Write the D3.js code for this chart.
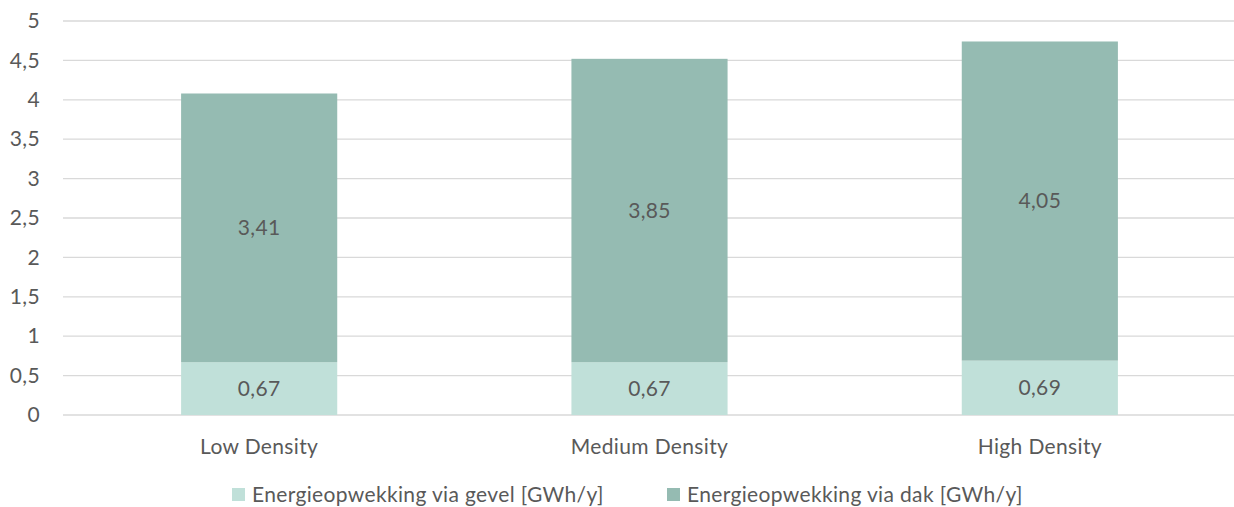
<!DOCTYPE html>
<html><head><meta charset="utf-8">
<script src="https://cdn.jsdelivr.net/npm/d3@7"></script>
<style>body{margin:0;background:#fff}svg{display:block}text{font-family:Lato,sans-serif;fill:#595959;letter-spacing:0.35px}</style>
</head><body><svg id="c" width="1234" height="507"></svg>
<script>
const categories = ["Low Density", "Medium Density", "High Density"];
const gevel = [0.67, 0.67, 0.69];
const dak = [3.41, 3.85, 4.05];
const seriesNames = ["Energieopwekking via gevel [GWh/y]", "Energieopwekking via dak [GWh/y]"];
const yTicks = [0, 0.5, 1, 1.5, 2, 2.5, 3, 3.5, 4, 4.5, 5];
const colors = ["#C0E0D9", "#95BBB2"];

const FS = "21px";
const svg = d3.select("#c");
const x = d3.scaleBand().domain(categories).range([64, 1235]).paddingInner(0.6).paddingOuter(0.3);
const y = d3.scaleLinear().domain([0, 5]).range([415, 21]);
const fmt = v => String(v).replace(".", ",");

svg.append("g").selectAll("line").data(yTicks).join("line")
  .attr("x1", 63).attr("x2", 1234).attr("y1", d => y(d)).attr("y2", d => y(d))
  .attr("stroke", "#D9D9D9").attr("stroke-width", 1.3);

const yAxis = d3.axisLeft(y).tickValues(yTicks).tickFormat(fmt).tickSize(0).tickPadding(0);
const ya = svg.append("g").attr("transform", "translate(40,0)").call(yAxis);
ya.select(".domain").remove();
ya.selectAll("text").style("font-size", FS).attr("fill", "#595959").style("font-family", "Lato,sans-serif");

const rows = categories.map((c, i) => ({cat: c, gevel: gevel[i], dak: dak[i]}));
const stack = d3.stack().keys(["gevel", "dak"])(rows);

stack.forEach((layer, li) => {
  const g = svg.append("g");
  g.selectAll("rect").data(layer).join("rect")
    .attr("x", d => x(d.data.cat)).attr("width", x.bandwidth())
    .attr("y", d => y(d[1])).attr("height", d => y(d[0]) - y(d[1]))
    .attr("fill", colors[li]);
  g.selectAll("text").data(layer).join("text")
    .attr("x", d => x(d.data.cat) + x.bandwidth() / 2)
    .attr("y", d => (y(d[0]) + y(d[1])) / 2)
    .attr("dy", "0.35em").attr("text-anchor", "middle")
    .style("font-size", FS)
    .text(d => fmt(d.data[layer.key]));
});

const xAxis = d3.axisBottom(x).tickSize(0).tickPadding(0);
const xa = svg.append("g").attr("transform", "translate(0,439)").call(xAxis);
xa.select(".domain").remove();
xa.selectAll("text").style("font-size", FS).attr("fill", "#595959").style("font-family", "Lato,sans-serif");

const legX = [232, 667];
seriesNames.forEach((n, i) => {
  svg.append("rect").attr("x", legX[i]).attr("y", 488).attr("width", 13).attr("height", 13).attr("fill", colors[i]);
  svg.append("text").attr("x", legX[i] + 20).attr("y", 495).attr("dy", "0.35em").style("font-size", FS).text(n);
});
</script></body></html>
